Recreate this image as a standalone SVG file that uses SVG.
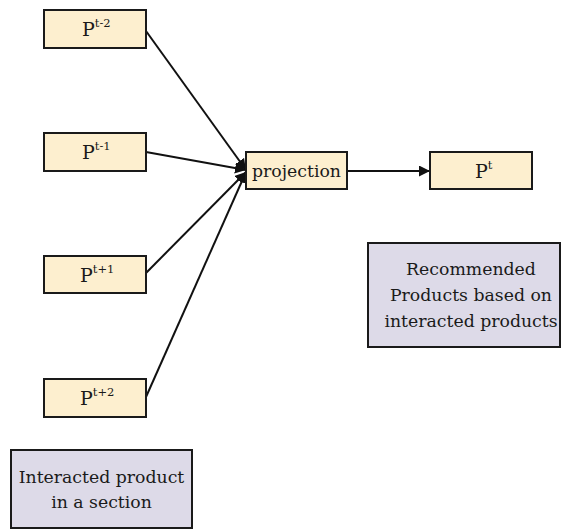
<svg xmlns="http://www.w3.org/2000/svg" width="561" height="530" viewBox="0 0 561 530">
  <style>
    .node { fill: #fdefcf; stroke: #1a1a1a; stroke-width: 2; }
    .note { fill: #dddae8; stroke: #1a1a1a; stroke-width: 2; }
    text { font-family: 'DejaVu Serif', serif; font-size: 17.3px; fill: #1a1a1a; }
    .big { font-size: 19px; }
    .sup { font-size: 11.5px; }
    .edge { stroke: #111; stroke-width: 2; fill: none; marker-end: url(#arrow); }
  </style>
  <defs>
    <marker id="arrow" viewBox="0 0 10 10" refX="10" refY="5" markerWidth="5.5" markerHeight="5.5" orient="auto" markerUnits="strokeWidth">
      <path d="M0,0 L10,5 L0,10 z" fill="#111"/>
    </marker>
  </defs>
  <rect width="561" height="530" fill="#ffffff"/>

  <!-- connectors -->
  <g id="connectors">
    <line class="edge" x1="146" y1="31" x2="246" y2="170"/>
    <line class="edge" x1="146" y1="152" x2="246" y2="170"/>
    <line class="edge" x1="146" y1="273" x2="246" y2="172"/>
    <line class="edge" x1="146" y1="397" x2="246" y2="172"/>
    <line class="edge" x1="347" y1="171" x2="430" y2="171"/>
  </g>

  <!-- input products -->
  <g id="p-t-2">
    <rect class="node" x="44" y="10" width="102" height="38"/>
    <text class="big" x="82" y="36">P<tspan class="sup" dy="-9">t-2</tspan></text>
  </g>
  <g id="p-t-1">
    <rect class="node" x="44" y="133" width="102" height="38"/>
    <text class="big" x="82" y="159">P<tspan class="sup" dy="-9">t-1</tspan></text>
  </g>
  <g id="p-t+1">
    <rect class="node" x="44" y="256" width="102" height="37"/>
    <text class="big" x="80" y="282">P<tspan class="sup" dy="-9">t+1</tspan></text>
  </g>
  <g id="p-t+2">
    <rect class="node" x="44" y="379" width="102" height="38"/>
    <text class="big" x="80" y="405">P<tspan class="sup" dy="-9">t+2</tspan></text>
  </g>

  <!-- projection -->
  <g id="projection">
    <rect class="node" x="246" y="152" width="101" height="37"/>
    <text x="296.5" y="177" text-anchor="middle">projection</text>
  </g>

  <!-- output product -->
  <g id="p-t">
    <rect class="node" x="430" y="152" width="102" height="37"/>
    <text class="big" x="475" y="178">P<tspan class="sup" dy="-9">t</tspan></text>
  </g>

  <!-- legend notes -->
  <g id="note-recommended">
    <rect class="note" x="368" y="243" width="192" height="104"/>
    <text x="471" y="275" text-anchor="middle">Recommended</text>
    <text x="471" y="301" text-anchor="middle">Products based on</text>
    <text x="471" y="327" text-anchor="middle">interacted products</text>
  </g>
  <g id="note-interacted">
    <rect class="note" x="11" y="450" width="181" height="78"/>
    <text x="101.5" y="483" text-anchor="middle">Interacted product</text>
    <text x="101.5" y="508" text-anchor="middle">in a section</text>
  </g>
</svg>
